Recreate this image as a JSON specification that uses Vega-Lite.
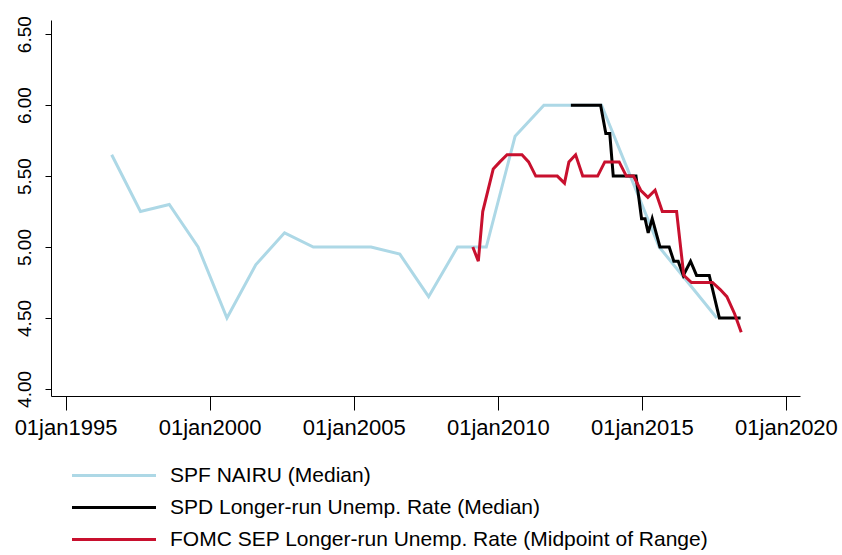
{
  "$schema": "https://vega.github.io/schema/vega-lite/v6.json",
  "autosize": {"type": "none"},
  "padding": {"left": 51, "top": 20, "right": 42, "bottom": 159},
  "width": 749,
  "height": 376,
  "background": "white",
  "config": {
    "view": {"stroke": null},
    "font": "Liberation Sans",
    "axis": {"grid": false, "domainColor": "black", "tickColor": "black", "labelColor": "black", "labelFont": "Liberation Sans", "domainWidth": 1, "tickWidth": 1}
  },
  "data": {
    "values": [
      {"date": "1996-08-08", "value": 5.65, "series": "SPF NAIRU (Median)"},
      {"date": "1997-08-08", "value": 5.25, "series": "SPF NAIRU (Median)"},
      {"date": "1998-08-08", "value": 5.30, "series": "SPF NAIRU (Median)"},
      {"date": "1999-08-08", "value": 5.00, "series": "SPF NAIRU (Median)"},
      {"date": "2000-08-08", "value": 4.50, "series": "SPF NAIRU (Median)"},
      {"date": "2001-08-08", "value": 4.875, "series": "SPF NAIRU (Median)"},
      {"date": "2002-08-08", "value": 5.10, "series": "SPF NAIRU (Median)"},
      {"date": "2003-08-08", "value": 5.00, "series": "SPF NAIRU (Median)"},
      {"date": "2004-08-08", "value": 5.00, "series": "SPF NAIRU (Median)"},
      {"date": "2005-08-08", "value": 5.00, "series": "SPF NAIRU (Median)"},
      {"date": "2006-08-08", "value": 4.95, "series": "SPF NAIRU (Median)"},
      {"date": "2007-08-08", "value": 4.65, "series": "SPF NAIRU (Median)"},
      {"date": "2008-08-08", "value": 5.00, "series": "SPF NAIRU (Median)"},
      {"date": "2009-08-08", "value": 5.00, "series": "SPF NAIRU (Median)"},
      {"date": "2010-08-08", "value": 5.78, "series": "SPF NAIRU (Median)"},
      {"date": "2011-08-08", "value": 6.00, "series": "SPF NAIRU (Median)"},
      {"date": "2012-08-08", "value": 6.00, "series": "SPF NAIRU (Median)"},
      {"date": "2013-08-08", "value": 6.00, "series": "SPF NAIRU (Median)"},
      {"date": "2014-08-08", "value": 5.50, "series": "SPF NAIRU (Median)"},
      {"date": "2015-08-08", "value": 5.00, "series": "SPF NAIRU (Median)"},
      {"date": "2016-08-08", "value": 4.75, "series": "SPF NAIRU (Median)"},
      {"date": "2017-08-08", "value": 4.50, "series": "SPF NAIRU (Median)"},

      {"date": "2012-07-15", "value": 6.0, "series": "SPD Longer-run Unemp. Rate (Median)"},
      {"date": "2012-09-05", "value": 6.0, "series": "SPD Longer-run Unemp. Rate (Median)"},
      {"date": "2012-10-16", "value": 6.0, "series": "SPD Longer-run Unemp. Rate (Median)"},
      {"date": "2012-12-04", "value": 6.0, "series": "SPD Longer-run Unemp. Rate (Median)"},
      {"date": "2013-01-22", "value": 6.0, "series": "SPD Longer-run Unemp. Rate (Median)"},
      {"date": "2013-03-12", "value": 6.0, "series": "SPD Longer-run Unemp. Rate (Median)"},
      {"date": "2013-04-23", "value": 6.0, "series": "SPD Longer-run Unemp. Rate (Median)"},
      {"date": "2013-06-10", "value": 6.0, "series": "SPD Longer-run Unemp. Rate (Median)"},
      {"date": "2013-07-27", "value": 6.0, "series": "SPD Longer-run Unemp. Rate (Median)"},
      {"date": "2013-10-01", "value": 5.8, "series": "SPD Longer-run Unemp. Rate (Median)"},
      {"date": "2013-11-20", "value": 5.8, "series": "SPD Longer-run Unemp. Rate (Median)"},
      {"date": "2014-01-03", "value": 5.5, "series": "SPD Longer-run Unemp. Rate (Median)"},
      {"date": "2014-03-10", "value": 5.5, "series": "SPD Longer-run Unemp. Rate (Median)"},
      {"date": "2014-04-21", "value": 5.5, "series": "SPD Longer-run Unemp. Rate (Median)"},
      {"date": "2014-06-09", "value": 5.5, "series": "SPD Longer-run Unemp. Rate (Median)"},
      {"date": "2014-07-21", "value": 5.5, "series": "SPD Longer-run Unemp. Rate (Median)"},
      {"date": "2014-09-08", "value": 5.5, "series": "SPD Longer-run Unemp. Rate (Median)"},
      {"date": "2014-10-18", "value": 5.5, "series": "SPD Longer-run Unemp. Rate (Median)"},
      {"date": "2014-12-28", "value": 5.2, "series": "SPD Longer-run Unemp. Rate (Median)"},
      {"date": "2015-02-10", "value": 5.2, "series": "SPD Longer-run Unemp. Rate (Median)"},
      {"date": "2015-03-22", "value": 5.1, "series": "SPD Longer-run Unemp. Rate (Median)"},
      {"date": "2015-05-12", "value": 5.2, "series": "SPD Longer-run Unemp. Rate (Median)"},
      {"date": "2015-08-18", "value": 5.0, "series": "SPD Longer-run Unemp. Rate (Median)"},
      {"date": "2015-10-19", "value": 5.0, "series": "SPD Longer-run Unemp. Rate (Median)"},
      {"date": "2015-12-13", "value": 5.0, "series": "SPD Longer-run Unemp. Rate (Median)"},
      {"date": "2016-02-10", "value": 4.9, "series": "SPD Longer-run Unemp. Rate (Median)"},
      {"date": "2016-04-05", "value": 4.9, "series": "SPD Longer-run Unemp. Rate (Median)"},
      {"date": "2016-06-09", "value": 4.8, "series": "SPD Longer-run Unemp. Rate (Median)"},
      {"date": "2016-09-09", "value": 4.9, "series": "SPD Longer-run Unemp. Rate (Median)"},
      {"date": "2016-11-24", "value": 4.8, "series": "SPD Longer-run Unemp. Rate (Median)"},
      {"date": "2017-01-23", "value": 4.8, "series": "SPD Longer-run Unemp. Rate (Median)"},
      {"date": "2017-03-06", "value": 4.8, "series": "SPD Longer-run Unemp. Rate (Median)"},
      {"date": "2017-05-04", "value": 4.8, "series": "SPD Longer-run Unemp. Rate (Median)"},
      {"date": "2017-09-09", "value": 4.5, "series": "SPD Longer-run Unemp. Rate (Median)"},
      {"date": "2017-10-23", "value": 4.5, "series": "SPD Longer-run Unemp. Rate (Median)"},
      {"date": "2017-12-04", "value": 4.5, "series": "SPD Longer-run Unemp. Rate (Median)"},
      {"date": "2018-01-22", "value": 4.5, "series": "SPD Longer-run Unemp. Rate (Median)"},
      {"date": "2018-03-12", "value": 4.5, "series": "SPD Longer-run Unemp. Rate (Median)"},
      {"date": "2018-04-23", "value": 4.5, "series": "SPD Longer-run Unemp. Rate (Median)"},
      {"date": "2018-06-05", "value": 4.5, "series": "SPD Longer-run Unemp. Rate (Median)"},

      {"date": "2009-02-18", "value": 5.0, "series": "FOMC SEP Longer-run Unemp. Rate (Midpoint of Range)"},
      {"date": "2009-04-29", "value": 4.9, "series": "FOMC SEP Longer-run Unemp. Rate (Midpoint of Range)"},
      {"date": "2009-06-24", "value": 5.25, "series": "FOMC SEP Longer-run Unemp. Rate (Midpoint of Range)"},
      {"date": "2009-11-04", "value": 5.55, "series": "FOMC SEP Longer-run Unemp. Rate (Midpoint of Range)"},
      {"date": "2010-01-27", "value": 5.6, "series": "FOMC SEP Longer-run Unemp. Rate (Midpoint of Range)"},
      {"date": "2010-04-28", "value": 5.65, "series": "FOMC SEP Longer-run Unemp. Rate (Midpoint of Range)"},
      {"date": "2010-06-23", "value": 5.65, "series": "FOMC SEP Longer-run Unemp. Rate (Midpoint of Range)"},
      {"date": "2010-11-03", "value": 5.65, "series": "FOMC SEP Longer-run Unemp. Rate (Midpoint of Range)"},
      {"date": "2011-01-26", "value": 5.6, "series": "FOMC SEP Longer-run Unemp. Rate (Midpoint of Range)"},
      {"date": "2011-04-27", "value": 5.5, "series": "FOMC SEP Longer-run Unemp. Rate (Midpoint of Range)"},
      {"date": "2011-06-22", "value": 5.5, "series": "FOMC SEP Longer-run Unemp. Rate (Midpoint of Range)"},
      {"date": "2011-11-02", "value": 5.5, "series": "FOMC SEP Longer-run Unemp. Rate (Midpoint of Range)"},
      {"date": "2012-01-25", "value": 5.5, "series": "FOMC SEP Longer-run Unemp. Rate (Midpoint of Range)"},
      {"date": "2012-04-25", "value": 5.45, "series": "FOMC SEP Longer-run Unemp. Rate (Midpoint of Range)"},
      {"date": "2012-06-20", "value": 5.6, "series": "FOMC SEP Longer-run Unemp. Rate (Midpoint of Range)"},
      {"date": "2012-09-13", "value": 5.65, "series": "FOMC SEP Longer-run Unemp. Rate (Midpoint of Range)"},
      {"date": "2012-12-12", "value": 5.5, "series": "FOMC SEP Longer-run Unemp. Rate (Midpoint of Range)"},
      {"date": "2013-03-20", "value": 5.5, "series": "FOMC SEP Longer-run Unemp. Rate (Midpoint of Range)"},
      {"date": "2013-06-19", "value": 5.5, "series": "FOMC SEP Longer-run Unemp. Rate (Midpoint of Range)"},
      {"date": "2013-09-18", "value": 5.6, "series": "FOMC SEP Longer-run Unemp. Rate (Midpoint of Range)"},
      {"date": "2013-12-18", "value": 5.6, "series": "FOMC SEP Longer-run Unemp. Rate (Midpoint of Range)"},
      {"date": "2014-03-19", "value": 5.6, "series": "FOMC SEP Longer-run Unemp. Rate (Midpoint of Range)"},
      {"date": "2014-06-18", "value": 5.5, "series": "FOMC SEP Longer-run Unemp. Rate (Midpoint of Range)"},
      {"date": "2014-09-17", "value": 5.5, "series": "FOMC SEP Longer-run Unemp. Rate (Midpoint of Range)"},
      {"date": "2014-12-17", "value": 5.4, "series": "FOMC SEP Longer-run Unemp. Rate (Midpoint of Range)"},
      {"date": "2015-03-18", "value": 5.35, "series": "FOMC SEP Longer-run Unemp. Rate (Midpoint of Range)"},
      {"date": "2015-06-17", "value": 5.4, "series": "FOMC SEP Longer-run Unemp. Rate (Midpoint of Range)"},
      {"date": "2015-09-17", "value": 5.25, "series": "FOMC SEP Longer-run Unemp. Rate (Midpoint of Range)"},
      {"date": "2015-12-16", "value": 5.25, "series": "FOMC SEP Longer-run Unemp. Rate (Midpoint of Range)"},
      {"date": "2016-03-16", "value": 5.25, "series": "FOMC SEP Longer-run Unemp. Rate (Midpoint of Range)"},
      {"date": "2016-06-15", "value": 4.8, "series": "FOMC SEP Longer-run Unemp. Rate (Midpoint of Range)"},
      {"date": "2016-09-21", "value": 4.75, "series": "FOMC SEP Longer-run Unemp. Rate (Midpoint of Range)"},
      {"date": "2016-12-14", "value": 4.75, "series": "FOMC SEP Longer-run Unemp. Rate (Midpoint of Range)"},
      {"date": "2017-03-15", "value": 4.75, "series": "FOMC SEP Longer-run Unemp. Rate (Midpoint of Range)"},
      {"date": "2017-06-14", "value": 4.75, "series": "FOMC SEP Longer-run Unemp. Rate (Midpoint of Range)"},
      {"date": "2017-09-20", "value": 4.7, "series": "FOMC SEP Longer-run Unemp. Rate (Midpoint of Range)"},
      {"date": "2017-12-13", "value": 4.65, "series": "FOMC SEP Longer-run Unemp. Rate (Midpoint of Range)"},
      {"date": "2018-03-21", "value": 4.53, "series": "FOMC SEP Longer-run Unemp. Rate (Midpoint of Range)"},
      {"date": "2018-06-13", "value": 4.4, "series": "FOMC SEP Longer-run Unemp. Rate (Midpoint of Range)"}
    ]
  },
  "mark": {"type": "line", "strokeWidth": 3, "strokeJoin": "miter", "clip": true},
  "encoding": {
    "x": {
      "field": "date",
      "type": "temporal",
      "scale": {"type": "utc", "domain": [{"year": 1994, "month": 7, "date": 1, "utc": true}, {"year": 2020, "month": 6, "date": 27, "utc": true}]},
      "axis": {
        "title": null,
        "values": [
          {"year": 1995, "month": 1, "date": 1, "utc": true},
          {"year": 2000, "month": 1, "date": 1, "utc": true},
          {"year": 2005, "month": 1, "date": 1, "utc": true},
          {"year": 2010, "month": 1, "date": 1, "utc": true},
          {"year": 2015, "month": 1, "date": 1, "utc": true},
          {"year": 2020, "month": 1, "date": 1, "utc": true}
        ],
        "labelExpr": "utcFormat(datum.value, '%d') + lower(utcFormat(datum.value, '%b')) + utcFormat(datum.value, '%Y')",
        "labelFontSize": 22,
        "tickSize": 14,
        "labelPadding": 24,
        "labelBaseline": "alphabetic",
        "labelFlush": false,
        "labelOverlap": false
      }
    },
    "y": {
      "field": "value",
      "type": "quantitative",
      "scale": {"domain": [3.95, 6.6], "nice": false, "zero": false},
      "axis": {
        "title": null,
        "values": [4, 4.5, 5, 5.5, 6, 6.5],
        "format": ".2f",
        "labelAngle": -90,
        "labelAlign": "center",
        "labelBaseline": "alphabetic",
        "labelFontSize": 19,
        "tickSize": 6,
        "labelPadding": 15,
        "labelFlush": false,
        "labelOverlap": false
      }
    },
    "color": {
      "field": "series",
      "type": "nominal",
      "scale": {
        "domain": ["SPF NAIRU (Median)", "SPD Longer-run Unemp. Rate (Median)", "FOMC SEP Longer-run Unemp. Rate (Midpoint of Range)"],
        "range": ["#add8e6", "#000000", "#c8102e"]
      },
      "legend": {
        "title": null,
        "orient": "none",
        "legendX": 21,
        "legendY": 444,
        "direction": "vertical",
        "symbolType": "M-1.15,0H7.25",
        "symbolSize": 400,
        "symbolStrokeWidth": 3,
        "labelFontSize": 21,
        "labelFont": "Liberation Sans",
        "labelColor": "black",
        "labelLimit": 800,
        "labelOffset": 75,
        "rowPadding": 10,
        "padding": 0
      }
    }
  }
}
